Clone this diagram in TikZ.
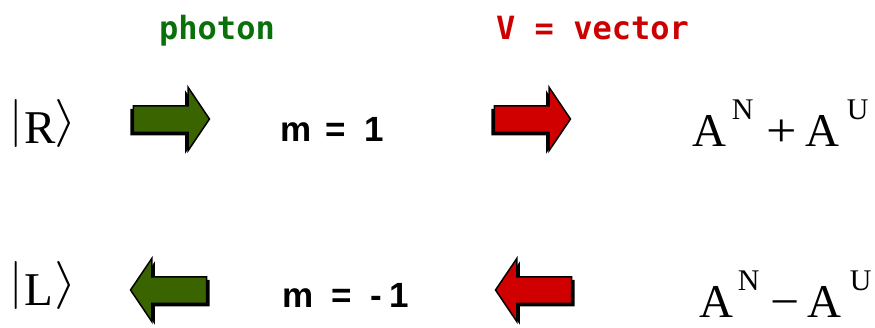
\RequirePackage{fix-cm}
\documentclass[tikz,border=0pt]{standalone}
\usepackage{fontspec}
\usetikzlibrary{shapes.arrows,shadows}
\newfontfamily\monobf{DejaVu Sans Mono Bold}
\newfontfamily\sansbf{Liberation Sans Bold}
\newfontfamily\serifrm{Liberation Serif}
\definecolor{arrgreen}{HTML}{3A6400}
\definecolor{arrred}{HTML}{D00000}
\definecolor{txtgreen}{HTML}{0A700A}
\definecolor{txtred}{HTML}{CC0000}
\newcommand{\bigsym}[1]{\raisebox{8pt}{\fontsize{48}{48}\selectfont$#1$}}
\newcommand{\bigang}{\raisebox{8pt}{\fontsize{48}{48}\selectfont\scalebox{1.2}[1]{$\rangle$}}}
\newcommand{\supl}[1]{\raisebox{27pt}{\fontsize{30}{30}\selectfont #1}}
\begin{document}
\begin{tikzpicture}[x=1pt,y=-1pt,
  blockarrow/.style={single arrow, draw=black, line width=1.5pt,
    inner xsep=0pt, inner ysep=12.5pt, minimum height=76pt, minimum width=62pt,
    single arrow head extend=18.5pt, single arrow tip angle=112,
    text height=0pt, text depth=0pt},
  rshadow/.style={general shadow={fill=black, shadow xshift=-3pt, shadow yshift=-3pt}},
  lshadow/.style={general shadow={fill=black, shadow xshift=3pt, shadow yshift=-3pt}},
  toplabel/.style={anchor=base west, inner sep=0pt, font=\monobf\fontsize{32}{32}\selectfont},
  mlabel/.style={anchor=base west, inner sep=0pt, font=\sansbf\fontsize{35}{35}\selectfont},
  serlabel/.style={anchor=base west, inner sep=0pt, font=\serifrm\fontsize{47}{47}\selectfont},
  ketlabel/.style={anchor=base west, inner sep=0pt, font=\serifrm\fontsize{47}{47}\selectfont}]
\useasboundingbox (0,0) rectangle (875,327);

% headers
\node[toplabel, text=txtgreen] (photon) at (159,39) {photon};
\node[toplabel, text=txtred] (vector) at (496,39) {V = vector};

% kets
\node[ketlabel] (ketR) at (9.7,143) {\bigsym{|}\kern1.2pt R\kern-1.5pt\bigang};
\node[ketlabel] (ketL) at (9.7,305) {\bigsym{|}\kern1.2pt L\kern1pt\bigang};

% arrows row 1
\node[blockarrow, rshadow, fill=arrgreen] (garrR) at (167,119) {};
\node[blockarrow, rshadow, fill=arrred] (rarrR) at (528,119) {};
% arrows row 2
\node[blockarrow, lshadow, fill=arrgreen, shape border rotate=180] (garrL) at (173,290) {};
\node[blockarrow, lshadow, fill=arrred, shape border rotate=180] (rarrL) at (538,290) {};

% m labels
\node[mlabel] (mone) at (280,141) {m\hspace{14.5pt}=\hspace{18pt}1};
\node[mlabel] (mmone) at (282.6,307) {m\hspace{18pt}=\hspace{18.5pt}-\hspace{7pt}1};

% expressions
\node[serlabel] (plusexp) at (692.3,146) {A\kern5.3pt\supl{N}\kern13.2pt\scalebox{1.15}[1]{+}\kern8.4pt A\kern7.4pt\supl{U}};
\node[serlabel] (minusexp) at (699.3,317) {A\kern4.3pt\supl{N}\kern11.2pt\scalebox{1.1}[1]{−}\kern7.7pt A\kern8.4pt\supl{U}};
\end{tikzpicture}
\end{document}
